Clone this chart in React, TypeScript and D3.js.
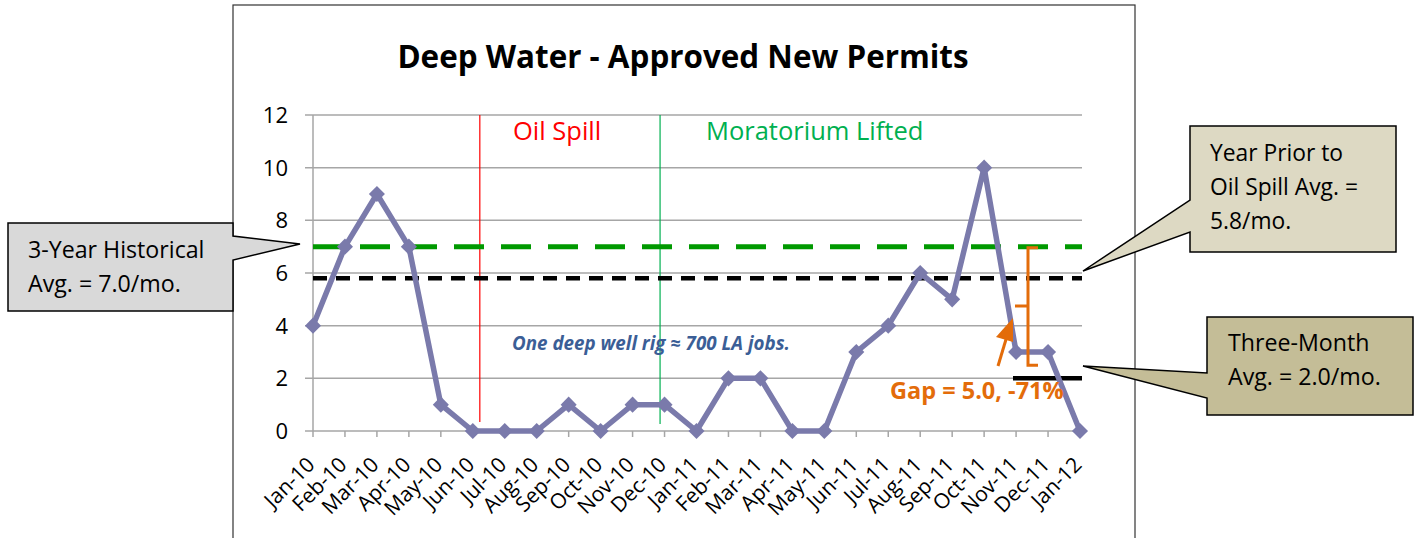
import React from "react";
import * as d3 from "d3";

const months = ["Jan-10","Feb-10","Mar-10","Apr-10","May-10","Jun-10","Jul-10","Aug-10","Sep-10","Oct-10","Nov-10","Dec-10","Jan-11","Feb-11","Mar-11","Apr-11","May-11","Jun-11","Jul-11","Aug-11","Sep-11","Oct-11","Nov-11","Dec-11","Jan-12"];
const permits = [4,7,9,7,1,0,0,0,1,0,1,1,0,2,2,0,0,3,4,6,5,10,3,3,0];
const yTicks = [0,2,4,6,8,10,12];
const histAvg = 7.0;
const priorAvg = 5.8;
const threeMonthAvg = 2.0;
const oilSpillIdx = 5.22;
const moratoriumIdx = 10.86;

const FONT = "'Open Sans', sans-serif";

export default function App() {
  const x = d3.scaleLinear().domain([0, months.length - 1]).range([313, 1080]);
  const y = d3.scaleLinear().domain([0, 12]).range([431, 115]);
  const line = d3.line<number>().x((_, i) => x(i)).y((d) => y(d));
  const diamond = d3.symbol().type((d3 as any).symbolDiamond2 || d3.symbolDiamond).size(165)();
  const xEnd = 1082;

  return (
    <svg width={1420} height={538} style={{ position: "absolute", left: 0, top: 0, background: "#fff" }} fontFamily={FONT}>
      {/* chart frame */}
      <rect x={233} y={5} width={902} height={560} fill="#fff" stroke="#333" strokeWidth={1.2} />
      <text x={683} y={68} textAnchor="middle" fontSize={31.4} fontWeight="bold" fill="#000">Deep Water - Approved New Permits</text>

      {/* grid */}
      {yTicks.map((t) => (
        <g key={t}>
          <line x1={305} x2={xEnd} y1={y(t)} y2={y(t)} stroke="#A6A6A6" strokeWidth={1.5} />
          <text x={288} y={y(t) + 8} textAnchor="end" fontSize={22} fill="#000">{t}</text>
        </g>
      ))}
      <line x1={313} x2={313} y1={y(12)} y2={y(0)} stroke="#A6A6A6" strokeWidth={1.5} />
      {months.map((m, i) => (
        <g key={m}>
          <line x1={x(i)} x2={x(i)} y1={y(0)} y2={y(0) + 6} stroke="#A6A6A6" strokeWidth={1.5} />
          <text transform={`translate(${x(i) + 3},${y(0) + 35}) rotate(-45)`} textAnchor="end" fontSize={21} fill="#000">{m}</text>
        </g>
      ))}

      {/* event lines */}
      <line x1={x(oilSpillIdx)} x2={x(oilSpillIdx)} y1={y(12)} y2={422} stroke="#FF0000" strokeWidth={1.2} />
      <line x1={x(moratoriumIdx)} x2={x(moratoriumIdx)} y1={y(12)} y2={424} stroke="#00B050" strokeWidth={1.2} />
      <text x={513} y={140} fontSize={25.5} fill="#FF0000">Oil Spill</text>
      <text x={706} y={140} fontSize={25.5} fill="#00B050">Moratorium Lifted</text>

      {/* averages */}
      <line x1={313} x2={xEnd} y1={y(histAvg)} y2={y(histAvg)} stroke="#009900" strokeWidth={5} strokeDasharray="30 17" />
      <line x1={313} x2={xEnd} y1={y(priorAvg)} y2={y(priorAvg)} stroke="#000" strokeWidth={4.5} strokeDasharray="14 9" />
      <line x1={1013} x2={xEnd} y1={y(threeMonthAvg)} y2={y(threeMonthAvg)} stroke="#000" strokeWidth={4.5} />

      {/* series */}
      <path d={line(permits) || ""} fill="none" stroke="#7A7AAB" strokeWidth={5.5} strokeLinejoin="round" />
      {permits.map((v, i) => (
        <path key={i} d={diamond || ""} transform={`translate(${x(i)},${y(v)})`} fill="#7A7AAB" />
      ))}

      <text x={512} y={350} fontSize={18.8} fontWeight="bold" fontStyle="italic" fill="#3B5E96">One deep well rig ≈ 700 LA jobs.</text>

      {/* gap bracket */}
      <path d={`M1038,${y(histAvg) + 1} L1028,${y(histAvg) + 1} L1028,${y(2.5)} L1038,${y(2.5)}`} fill="none" stroke="#E36C0A" strokeWidth={3} />
      <line x1={1015} x2={1028} y1={306} y2={306} stroke="#E36C0A" strokeWidth={3} />
      <line x1={998} x2={1007} y1={366} y2={336} stroke="#E36C0A" strokeWidth={3} />
      <path d="M1013,318 L996,337 L1013,342 Z" fill="#E36C0A" />
      <text x={890} y={399} fontSize={23.5} fontWeight="bold" fill="#E36C0A">Gap = 5.0, -71%</text>

      {/* callouts */}
      <path d="M8,223 L233,223 L233,236 L300,244 L233,260 L233,311 L8,311 Z" fill="#D9D9D9" stroke="#000" strokeWidth={1.5} />
      <text x={28} y={258} fontSize={23.2} fill="#000">3-Year Historical</text>
      <text x={28} y={292} fontSize={23.2} fill="#000">Avg. = 7.0/mo.</text>

      <path d="M1190,126 L1396,126 L1396,252 L1190,252 L1190,232 L1083,271 L1190,200 Z" fill="#DDD9C3" stroke="#000" strokeWidth={1.5} />
      <text x={1210} y={161} fontSize={22.8} fill="#000">Year Prior to</text>
      <text x={1210} y={195} fontSize={22.8} fill="#000">Oil Spill Avg. =</text>
      <text x={1210} y={229} fontSize={22.8} fill="#000">5.8/mo.</text>

      <path d="M1207,317 L1413,317 L1413,415 L1207,415 L1207,398 L1083,366 L1207,373 Z" fill="#C4BD97" stroke="#000" strokeWidth={1.5} />
      <text x={1228} y={351} fontSize={23.2} fill="#000">Three-Month</text>
      <text x={1228} y={385} fontSize={23.2} fill="#000">Avg. = 2.0/mo.</text>
    </svg>
  );
}
